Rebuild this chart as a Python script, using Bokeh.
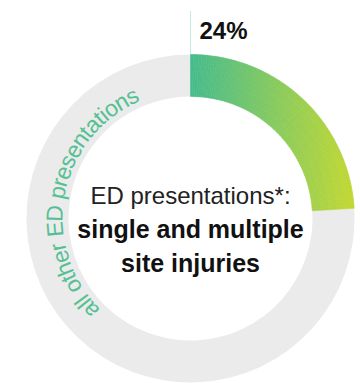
import math
from bokeh.plotting import figure
from bokeh.models import Range1d
from bokeh.core.properties import value
from bokeh.embed import file_html
from bokeh.resources import INLINE

# ---- data ----
categories = ["single and multiple site injuries", "all other ED presentations"]
shares = [24, 76]
pct_label = "24%"
center_lines = ["ED presentations*:", "single and multiple", "site injuries"]
ring_label = "all other ED presentations"

# ---- layout / style ----
W, H = 360, 383
CX, CY = 190, H - 218
R_OUT, R_IN = 164, 122
GREY = "#EBEBEB"
GRAD_START = (69, 187, 141)
GRAD_END = (196, 216, 50)
RING_TEXT_COLOR = "#55C093"
FONT = "Liberation Sans"

p = figure(width=W, height=H, x_range=Range1d(0, W), y_range=Range1d(0, H),
           output_backend="svg", toolbar_location=None,
           x_axis_type=None, y_axis_type=None, min_border=0,
           outline_line_color=None, background_fill_color="white",
           border_fill_color="white")
p.grid.visible = False

total = float(sum(shares))
sweep_main = 360.0 * shares[0] / total   # compass degrees, clockwise from top


def math_rad(compass):
    return math.radians(90.0 - compass)


# remainder (grey)
p.annular_wedge(x=[CX], y=[CY], inner_radius=R_IN, outer_radius=R_OUT,
                start_angle=[math_rad(360.0)], end_angle=[math_rad(sweep_main)],
                direction="anticlock", fill_color=GREY, line_color=None)

# highlighted share with horizontal gradient (many small pieces)
NA, NR = 90, 5
xs, ys, sa, ea, ir, orr, cols = [], [], [], [], [], [], []
x0, x1 = CX, CX + R_OUT
for k in range(NA):
    a0 = sweep_main * k / NA
    a1 = sweep_main * (k + 1) / NA
    am = 0.5 * (a0 + a1)
    for j in range(NR):
        r0 = R_IN + (R_OUT - R_IN) * j / NR
        r1 = R_IN + (R_OUT - R_IN) * (j + 1) / NR
        rm = 0.5 * (r0 + r1)
        xm = CX + rm * math.sin(math.radians(am))
        t = min(max((xm - x0) / (x1 - x0), 0.0), 1.0)
        c = tuple(int(round(GRAD_START[i] + (GRAD_END[i] - GRAD_START[i]) * t)) for i in range(3))
        xs.append(CX); ys.append(CY)
        sa.append(math_rad(a1)); ea.append(math_rad(a0))
        ir.append(r0); orr.append(r1)
        cols.append("#%02x%02x%02x" % c)

p.annular_wedge(x=xs, y=ys, inner_radius=ir, outer_radius=orr,
                start_angle=sa, end_angle=ea,
                direction="anticlock", fill_color=cols, line_color=cols,
                line_width=0.6)

# dotted leader line at start of the share
p.segment(x0=[CX], y0=[CY + R_OUT], x1=[CX], y1=[CY + R_OUT + 43],
          line_color="#8FD3BE", line_width=1, line_dash="1 1")

p.text(x=[CX + 9], y=[H - 30], text=[pct_label], text_font=value(FONT),
       text_font_size="24px", text_font_style="bold", text_color="#111111",
       text_align="left", text_baseline="alphabetic")

# centre text
p.text(x=[CX], y=[H - 195], text=[center_lines[0]], text_font=value(FONT),
       text_font_size="24px", text_color="#222222", text_align="center",
       text_baseline="alphabetic")
p.text(x=[CX, CX], y=[H - 228, H - 262], text=center_lines[1:],
       text_font=value(FONT), text_font_size="25px", text_font_style="bold",
       text_color="#111111", text_align="center", text_baseline="alphabetic")

# curved label along the grey ring
CHAR_W = {"a": 556, "l": 222, " ": 278, "o": 556, "t": 278, "h": 556, "e": 556,
          "r": 333, "E": 667, "D": 722, "p": 556, "s": 500, "n": 556, "i": 222}
RING_FS = 23
R_BASE = 136
SPAN_START, SPAN_END = 227.5, 334.5  # compass angles of first / last glyph centres
widths = [CHAR_W.get(ch, 556) / 1000.0 * RING_FS for ch in ring_label]
centres = []
acc = 0.0
for w in widths:
    centres.append(acc + w / 2)
    acc += w
nat_span = centres[-1] - centres[0]
target_span = math.radians(SPAN_END - SPAN_START) * R_BASE
scale = target_span / nat_span
tx, ty, tang = [], [], []
for cpos in centres:
    comp = SPAN_START + math.degrees((cpos - centres[0]) * scale / R_BASE)
    th = math_rad(comp)
    tx.append(CX + R_BASE * math.cos(th))
    ty.append(CY + R_BASE * math.sin(th))
    tang.append(math.radians(-comp))

p.text(x=tx, y=ty, text=list(ring_label), angle=tang, text_font=value(FONT),
       text_font_size=f"{RING_FS}px", text_color=RING_TEXT_COLOR,
       text_align="center", text_baseline="alphabetic")

open("out.html", "w").write(file_html(p, INLINE))
